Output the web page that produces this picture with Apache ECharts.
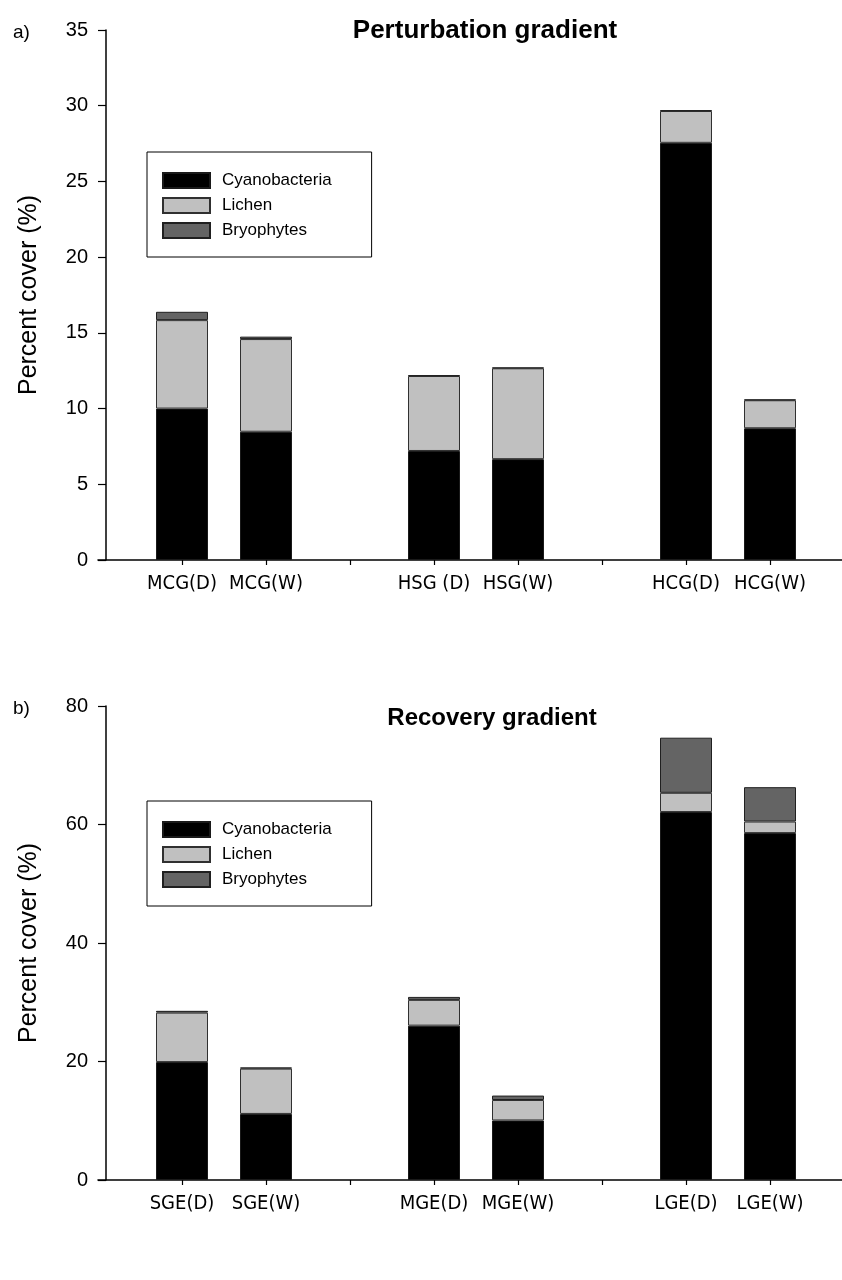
<!DOCTYPE html>
<html>
<head>
<meta charset="utf-8">
<script src="https://cdn.jsdelivr.net/npm/echarts@6/dist/echarts.min.js"></script>
<style>
html,body{margin:0;padding:0;background:#fff;}
#c{width:842px;height:1280px;}
</style>
</head>
<body>
<div id="c"></div>
<script>
// ---- data ----
const catsA = ['MCG(D)', 'MCG(W)', 'HSG (D)', 'HSG(W)', 'HCG(D)', 'HCG(W)'];
const cyanoA = [10.0, 8.47, 7.2, 6.66, 27.55, 8.7];
const lichenA = [5.84, 6.12, 4.95, 6.0, 2.1, 1.85];
const bryoA = [0.55, 0.16, 0.05, 0.05, 0.05, 0.05];

const catsB = ['SGE(D)', 'SGE(W)', 'MGE(D)', 'MGE(W)', 'LGE(D)', 'LGE(W)'];
const cyanoB = [19.9, 11.15, 26.05, 10.05, 62.1, 58.55];
const lichenB = [8.35, 7.65, 4.35, 3.45, 3.25, 1.95];
const bryoB = [0.3, 0.2, 0.5, 0.75, 9.3, 5.8];

const ticksA = [0, 5, 10, 15, 20, 25, 30, 35];
const ticksB = [0, 20, 40, 60, 80];

const seriesNames = ['Cyanobacteria', 'Lichen', 'Bryophytes'];

// insert empty slots between the three pairs
function pad(arr, blank) {
  return [blank, arr[0], arr[1], blank, arr[2], arr[3], blank, arr[4], arr[5], blank];
}

const FONT = '"Liberation Sans", Arial, sans-serif';
const NARROW = '"Liberation Sans Narrow", "DejaVu Sans Condensed", "Liberation Sans", sans-serif';

const styles = [
  {color: '#000000', borderColor: '#1a1a1a', borderWidth: 1},
  {color: '#c0c0c0', borderColor: '#303030', borderWidth: 1},
  {color: '#646464', borderColor: '#202020', borderWidth: 1}
];

function xAxis(cats, gi) {
  return {
    type: 'category', gridIndex: gi, boundaryGap: false,
    data: pad(cats, ''),
    axisLine: {lineStyle: {color: '#000', width: 1.6}},
    axisTick: {length: 5, inside: false, lineStyle: {color: '#000', width: 1.2}, interval: function (i) { return i !== 0; }},
    axisLabel: {interval: 0, color: '#000', fontFamily: NARROW, fontSize: 20, margin: 14},
    splitLine: {show: false}
  };
}
function yAxis(ticks, gi) {
  return {
    type: 'value', gridIndex: gi,
    min: ticks[0], max: ticks[ticks.length - 1], interval: ticks[1] - ticks[0],
    offset: -8,
    name: 'Percent cover (%)', nameLocation: 'middle', nameRotate: 90, nameGap: 64,
    nameTextStyle: {fontFamily: FONT, fontSize: 25, color: '#000'},
    axisLine: {show: true, lineStyle: {color: '#000', width: 1.5}},
    axisTick: {show: true, length: 8, lineStyle: {color: '#000', width: 1.2}},
    axisLabel: {color: '#000', fontFamily: FONT, fontSize: 20, margin: 18},
    splitLine: {show: false}
  };
}
function makeSeries(vals, gi, stack) {
  return vals.map(function (v, k) {
    return {
      name: seriesNames[k], type: 'bar', stack: stack,
      xAxisIndex: gi, yAxisIndex: gi,
      barWidth: 52,
      data: pad(v, '-'),
      itemStyle: styles[k],
      emphasis: {disabled: true}
    };
  });
}
function legend(top) {
  return {
    show: true, orient: 'vertical', left: 147, top: top,
    data: seriesNames,
    itemWidth: 47, itemHeight: 15, itemGap: 8,
    padding: [20, 40, 18, 15],
    borderColor: '#000', borderWidth: 1,
    icon: 'rect',
    textStyle: {fontFamily: FONT, fontSize: 17, color: '#000', padding: [0, 0, 0, 7]},
    selectedMode: false
  };
}

const chart = echarts.init(document.getElementById('c'), null, {renderer: 'canvas'});
chart.setOption({
  animation: false,
  backgroundColor: '#fff',
  title: [
    {text: 'Perturbation gradient', left: 480, top: 13, textAlign: 'center',
     textStyle: {fontFamily: FONT, fontSize: 26, fontWeight: 'bold', color: '#000'}},
    {text: 'Recovery gradient', left: 487, top: 701, textAlign: 'center',
     textStyle: {fontFamily: FONT, fontSize: 24, fontWeight: 'bold', color: '#000'}},
    {text: 'a)', left: 8, top: 18, textStyle: {fontFamily: FONT, fontSize: 19, fontWeight: 'normal', color: '#000'}},
    {text: 'b)', left: 8, top: 694, textStyle: {fontFamily: FONT, fontSize: 19, fontWeight: 'normal', color: '#000'}}
  ],
  legend: [legend(152), legend(801)],
  grid: [
    {left: 98, right: -12, top: 30, height: 530, outerBoundsMode: 'none', containLabel: false},
    {left: 98, right: -12, top: 706, height: 474, outerBoundsMode: 'none', containLabel: false}
  ],
  xAxis: [xAxis(catsA, 0), xAxis(catsB, 1)],
  yAxis: [yAxis(ticksA, 0), yAxis(ticksB, 1)],
  series: makeSeries([cyanoA, lichenA, bryoA], 0, 'a').concat(makeSeries([cyanoB, lichenB, bryoB], 1, 'b'))
});
</script>
</body>
</html>
